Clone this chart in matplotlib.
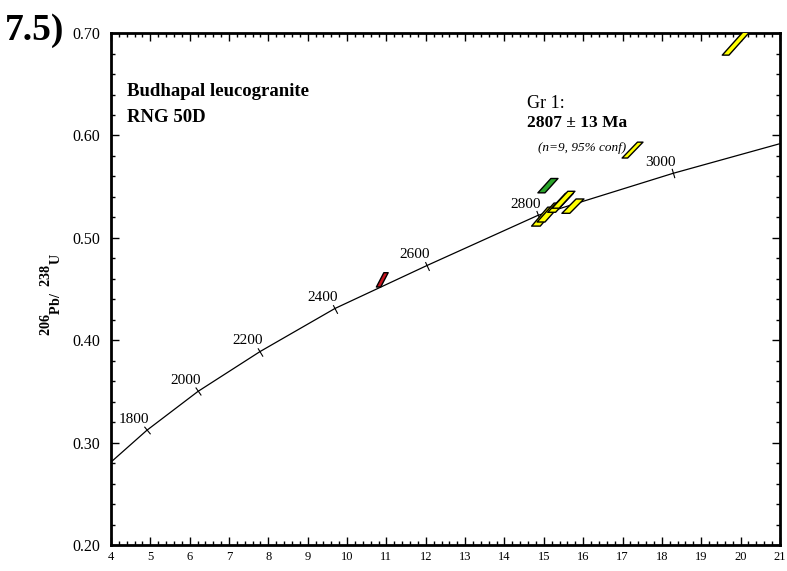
import numpy as np
import matplotlib
matplotlib.use("Agg")
import matplotlib.pyplot as plt
from matplotlib.ticker import MultipleLocator
from matplotlib.patches import Polygon

plt.rcParams['font.family'] = ['Liberation Serif', 'DejaVu Serif']
plt.rcParams['mathtext.fontset'] = 'custom'
plt.rcParams['mathtext.rm'] = 'Liberation Serif'
plt.rcParams['mathtext.bf'] = 'Liberation Serif:bold'

# concordia curve (207Pb/235U, 206Pb/238U)
curve_x = [4.0, 4.91, 6.21, 7.79, 9.69, 12.03, 14.85, 18.28, 21.0]
curve_y = [0.281, 0.312, 0.350, 0.389, 0.431, 0.473, 0.522, 0.563, 0.592]

# age marks on the curve
ages = ["1800", "2000", "2200", "2400", "2600", "2800", "3000"]
age_x = [4.91, 6.21, 7.79, 9.69, 12.03, 14.85, 18.28]
age_y = [0.312, 0.350, 0.389, 0.431, 0.473, 0.522, 0.563]

# error ellipses (long axis end points, half width in x)
ell_x0 = [10.80, 14.94, 14.80, 14.93, 15.20, 15.30, 15.56, 17.06, 19.62]
ell_y0 = [0.452, 0.544, 0.5115, 0.5155, 0.525, 0.529, 0.524, 0.578, 0.6785]
ell_x1 = [10.99, 15.27, 15.21, 15.36, 15.65, 15.70, 15.92, 17.45, 20.40]
ell_y1 = [0.466, 0.558, 0.530, 0.534, 0.5435, 0.5455, 0.538, 0.5935, 0.712]
ell_w = [0.055, 0.09, 0.11, 0.10, 0.10, 0.09, 0.10, 0.07, 0.085]
ell_col = ["#c8141e", "#2aa52a", "#ffff00", "#ffff00", "#ffff00",
           "#ffff00", "#ffff00", "#ffff00", "#ffff00"]

fig = plt.figure(figsize=(7.87, 5.71), dpi=100)
ax = fig.add_axes([0.141, 0.0455, 0.850, 0.8965])
ax.set_xlim(4, 21)
ax.set_ylim(0.2, 0.7)

ax.plot(curve_x, curve_y, color="black", lw=0.9, zorder=2)

# little ticks across the curve + age labels
pts = ax.transData.transform(np.column_stack([curve_x, curve_y]))
ang = np.degrees(np.arctan2(np.diff(pts[:, 1]), np.diff(pts[:, 0])))
for i, (lab, x, y) in enumerate(zip(ages, age_x, age_y)):
    a = (ang[i] + ang[i + 1]) / 2
    ax.plot([x], [y], marker=(2, 0, a), ms=7, mew=0.8, color="black", zorder=2)
    ax.annotate(lab, (x, y), xytext=(2, 3), textcoords="offset points",
                ha="right", va="bottom", fontsize=11)

for x0, y0, x1, y1, w, c in zip(ell_x0, ell_y0, ell_x1, ell_y1, ell_w, ell_col):
    poly = Polygon([(x0 - w, y0), (x0 + w, y0), (x1 + w, y1), (x1 - w, y1)],
                   closed=True, facecolor=c, edgecolor="black", lw=1.0,
                   joinstyle="round", zorder=4)
    ax.add_patch(poly)

ax.xaxis.set_major_locator(MultipleLocator(1))
ax.xaxis.set_minor_locator(MultipleLocator(0.2))
ax.yaxis.set_minor_locator(MultipleLocator(0.02))
ax.set_yticks(np.arange(0.2, 0.71, 0.1))
ax.set_yticklabels(["0.20", "0.30", "0.40", "0.50", "0.60", "0.70"])
ax.tick_params(which="both", direction="in", top=True, right=True, width=1)
ax.tick_params(which="major", length=6)
ax.tick_params(which="minor", length=3)
ax.tick_params(axis="x", labelsize=9, pad=4)
ax.tick_params(axis="y", labelsize=11.5, pad=8)
for s in ax.spines.values():
    s.set_linewidth(2)

ax.set_ylabel(r"$\mathbf{{}^{206}{}_{Pb/}\ {}^{238}{}_{U}}$", fontsize=14.5)
ax.yaxis.set_label_coords(-0.072, 0.49)

ax.text(4.41, 0.6434, "Budhapal leucogranite", fontsize=13.5, fontweight="bold", va="center")
ax.text(4.41, 0.618, "RNG 50D", fontsize=13.5, fontweight="bold", va="center")
ax.text(14.57, 0.6316, "Gr 1:", fontsize=13, va="center")
ax.text(14.57, 0.612, "2807 \u00b1 13 Ma", fontsize=12.5, fontweight="bold", va="center")
ax.text(14.85, 0.5877, "(n=9, 95% conf)", fontsize=9.5, style="italic", va="center")

fig.text(0.006, 0.947, "7.5)", fontsize=27, fontweight="bold", va="center")

fig.savefig("out.png", dpi=100)
